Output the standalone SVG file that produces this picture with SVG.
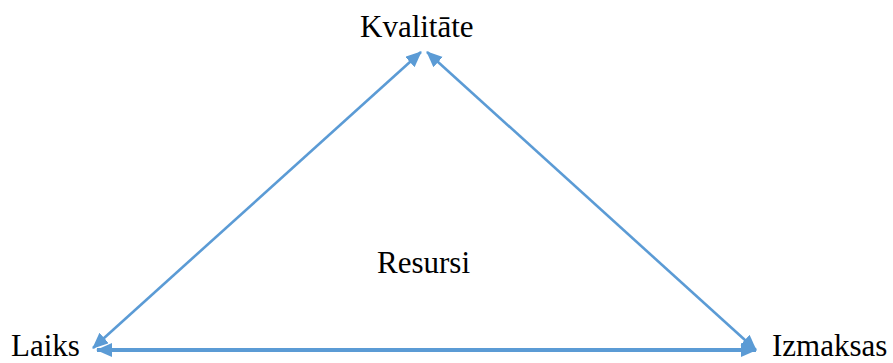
<svg xmlns="http://www.w3.org/2000/svg" width="893" height="363" viewBox="0 0 893 363">
<style>
.lbl{font-family:"Liberation Serif","Times New Roman",serif;font-size:31px;fill:#000}
.con{stroke:#5B9BD5;fill:none}
</style>
<defs>
<marker id="ah" markerUnits="userSpaceOnUse" markerWidth="18" markerHeight="16" refX="15" refY="7" orient="auto-start-reverse">
<path d="M0,0 L16,7 L0,14 Z" fill="#5B9BD5"/>
</marker>
</defs>
<rect width="893" height="363" fill="#fff"/>
<g id="connectors">
<line class="con" x1="421" y1="52" x2="93" y2="348" stroke-width="2.6" marker-start="url(#ah)" marker-end="url(#ah)"/>
<line class="con" x1="427" y1="52" x2="756" y2="350" stroke-width="2.6" marker-start="url(#ah)" marker-end="url(#ah)"/>
<line class="con" x1="97" y1="350" x2="756" y2="350" stroke-width="3.8" marker-start="url(#ah)" marker-end="url(#ah)"/>
</g>
<g id="kvalitate"><text class="lbl" x="360" y="37">Kvalitāte</text></g>
<g id="laiks"><text class="lbl" x="11" y="356">Laiks</text></g>
<g id="izmaksas"><text class="lbl" x="772" y="356">Izmaksas</text></g>
<g id="resursi"><text class="lbl" x="377" y="273">Resursi</text></g>
</svg>
